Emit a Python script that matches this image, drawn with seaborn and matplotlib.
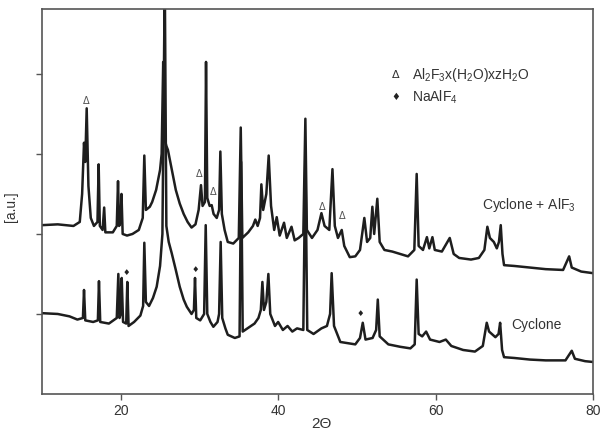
import numpy as np
import matplotlib
matplotlib.use("Agg")
import matplotlib.pyplot as plt
import seaborn as sns

# XRD patterns: (2theta, intensity in a.u.)
upper_2theta = [10, 12, 14, 14.8, 15.1, 15.34, 15.5, 15.68, 15.9, 16.2, 16.6, 17.05, 17.2, 17.35,
                17.7, 17.9, 18.05, 19.0, 19.5, 19.66, 19.8, 20.0, 20.1, 20.25, 20.8, 21.5, 22.3,
                22.8, 23.0, 23.2, 23.7, 24.0, 24.5, 25.0, 25.2, 25.4, 25.55, 25.8, 26.0, 26.3,
                26.6, 27.0, 27.5, 28.0, 28.5, 29.0, 29.5, 29.9, 30.2, 30.4, 30.7, 30.84, 31.0,
                31.3, 31.56, 31.8, 32.2, 32.5, 32.66, 32.85, 33.2, 33.6, 34.3, 35.0, 35.25, 35.45,
                36.2, 36.8, 37.1, 37.4, 37.7, 37.87, 38.1, 38.5, 38.8, 39.1, 39.5, 39.82, 40.2,
                40.75, 41.1, 41.7, 42.1, 42.6, 43.2, 43.46, 43.65, 44.3, 45.0, 45.5, 45.9, 46.5,
                46.9, 47.2, 47.6, 48.08, 48.4, 49.1, 49.8, 50.4, 50.95, 51.3, 51.7, 51.97, 52.2,
                52.6, 52.9, 53.5, 54.5, 55.5, 56.5, 57.3, 57.6, 57.85, 58.4, 58.9, 59.2, 59.6,
                59.9, 60.8, 61.8, 62.3, 63.0, 64.5, 65.5, 66.2, 66.58, 66.9, 67.4, 67.78, 68.05,
                68.28, 68.5, 68.7, 70, 72, 74, 76.2, 76.97, 77.3, 78.5, 80]
upper_int = [2.11, 2.12, 2.1, 2.15, 2.5, 3.14, 2.9, 3.57, 2.6, 2.2, 2.1, 2.15, 2.87, 2.1,
             2.05, 2.33, 2.02, 2.02, 2.1, 2.66, 2.1, 2.15, 2.5, 2.0, 1.98, 2.0, 2.05,
             2.2, 2.98, 2.3, 2.34, 2.4, 2.55, 2.8, 3.0, 4.15, 3.2, 3.1, 3.05, 2.9,
             2.75, 2.55, 2.38, 2.25, 2.15, 2.08, 2.12, 2.3, 2.61, 2.35, 2.4, 4.15, 2.45,
             2.35, 2.36, 2.25, 2.2, 2.3, 3.03, 2.25, 2.05, 1.9, 1.88, 1.95, 3.33, 1.95,
             2.02, 2.1, 2.18, 2.1, 2.2, 2.62, 2.3, 2.5, 2.98, 2.35, 2.05, 2.21, 1.98,
             2.14, 1.95, 2.09, 1.92, 1.95, 2.0, 3.44, 2.05, 1.95, 2.05, 2.26, 2.1, 2.05,
             2.81, 2.1, 1.95, 2.05, 1.85, 1.71, 1.72, 1.8, 2.2, 1.9, 1.95, 2.34, 2.0,
             2.44, 1.9, 1.8, 1.78, 1.75, 1.72, 1.8, 2.75, 1.85, 1.8, 1.96, 1.82, 1.96,
             1.8, 1.78, 1.95, 1.75, 1.7, 1.68, 1.7, 1.8, 2.09, 1.95, 1.9, 1.82, 1.9,
             2.11, 1.75, 1.61, 1.6, 1.58, 1.56, 1.55, 1.72, 1.58, 1.53, 1.51]

lower_2theta = [10, 12, 13.5, 14.5, 15.2, 15.34, 15.5, 16.5, 17.1, 17.24, 17.4, 18.5, 19.5,
                19.7, 19.85, 20.0, 20.13, 20.3, 20.7, 20.84, 21.0, 21.7, 22.5, 22.85, 23.0, 23.2,
                23.6, 24.1, 24.57, 25.0, 25.3, 25.6, 25.8, 26.1, 26.48, 27.0, 27.5, 28.0, 28.4,
                29.0, 29.3, 29.44, 29.6, 30.1, 30.6, 30.8, 31.0, 31.4, 31.77, 32.3, 32.5, 32.7,
                32.9, 33.3, 33.6, 34.5, 35.1, 35.3, 35.5, 36.4, 37.0, 37.5, 37.8, 38.0, 38.2,
                38.5, 38.76, 39.0, 39.6, 40.0, 40.6, 41.2, 41.8, 42.4, 43.2, 43.46, 43.7, 44.5,
                45.5, 46.2, 46.6, 46.8, 47.1, 47.9, 49.8, 50.4, 50.75, 51.1, 52.0, 52.45, 52.66,
                52.9, 54.0, 55.5, 56.8, 57.35, 57.6, 57.85, 58.3, 58.8, 59.3, 60.5, 61.3, 62.0,
                63.5, 65.0, 66.0, 66.5, 66.8, 67.6, 68.0, 68.2, 68.45, 68.7, 70, 72, 74, 76.5,
                77.3, 77.7, 79, 80]
lower_int = [1.01, 1.0, 0.97, 0.93, 0.95, 1.3, 0.92, 0.9, 0.92, 1.41, 0.9, 0.88, 0.95,
             1.5, 0.95, 1.0, 1.45, 0.9, 0.88, 1.4, 0.85, 0.9, 0.98, 1.1, 1.89, 1.15,
             1.1, 1.2, 1.34, 1.6, 2.0, 5.2, 2.1, 1.9, 1.76, 1.55, 1.34, 1.18, 1.09,
             1.0, 1.05, 1.45, 0.95, 0.92, 1.0, 2.11, 1.0, 0.9, 0.84, 0.9, 1.0, 1.9,
             0.95, 0.82, 0.74, 0.7, 0.72, 2.9, 0.78, 0.84, 0.88, 0.95, 1.05, 1.4, 1.05,
             1.15, 1.5, 1.0, 0.85, 0.9, 0.8, 0.85, 0.78, 0.82, 0.8, 3.0, 0.8, 0.75,
             0.82, 0.85, 1.0, 1.51, 0.85, 0.65, 0.62, 0.7, 0.89, 0.68, 0.7, 0.8, 1.18,
             0.72, 0.62, 0.59, 0.57, 0.62, 1.43, 0.75, 0.72, 0.78, 0.68, 0.65, 0.68, 0.6,
             0.55, 0.53, 0.6, 0.89, 0.78, 0.71, 0.75, 0.89, 0.55, 0.46, 0.45, 0.43, 0.42, 0.42,
             0.54, 0.44, 0.41, 0.4]

# phase markers (2theta, height where the symbol sits)
delta_pos = [15.6, 29.95, 31.73, 45.58, 48.1]
delta_y = [3.66, 2.75, 2.52, 2.34, 2.22]
diamond_pos = [20.67, 29.44, 50.4]
diamond_y = [1.52, 1.56, 1.0]

sns.set_style("ticks")
plt.rcParams['font.family'] = ['Liberation Sans', 'DejaVu Sans']
plt.rcParams['mathtext.fontset'] = 'custom'
plt.rcParams['mathtext.rm'] = 'Liberation Sans'
plt.rcParams['mathtext.it'] = 'Liberation Sans:italic'

TXT = '#333333'
LINE = '#1e1e1e'

fig = plt.figure(figsize=(6.04, 4.34), dpi=100)
ax = fig.add_axes([0.0695, 0.0922, 0.9123, 0.8868])

sns.lineplot(x=upper_2theta, y=upper_int, color=LINE, linewidth=1.8, estimator=None, ax=ax)
sns.lineplot(x=lower_2theta, y=lower_int, color=LINE, linewidth=1.8, estimator=None, ax=ax)

for x, y in zip(delta_pos, delta_y):
    ax.text(x, y, 'Δ', fontsize=7, color='#555555', ha='center', va='center',
            family=['DejaVu Sans'])
for x, y in zip(diamond_pos, diamond_y):
    ax.text(x, y, '♦', fontsize=6, color='#222222', ha='center', va='center',
            family=['DejaVu Sans'])

# legend-like annotation
ax.text(55.0, 3.99, 'Δ', fontsize=8, color=TXT, ha='center', va='center', family=['DejaVu Sans'])
ax.text(57.0, 3.99, r'Al$_2$F$_3$x(H$_2$O)xzH$_2$O', fontsize=10, color=TXT, va='center')
ax.text(55.0, 3.71, '♦', fontsize=7, color='#222222', ha='center', va='center', family=['DejaVu Sans'])
ax.text(57.0, 3.71, r'NaAlF$_4$', fontsize=10, color=TXT, va='center')

ax.text(65.9, 2.36, r'Cyclone + AlF$_3$', fontsize=10, color=TXT, va='center')
ax.text(69.6, 0.86, 'Cyclone', fontsize=10, color=TXT, va='center')

ax.set_xlim(10, 80)
ax.set_ylim(0, 4.81)
ax.set_xticks([20, 40, 60, 80])
ax.set_yticks([1, 2, 3, 4])
ax.set_yticklabels([])
ax.tick_params(axis='both', direction='out', length=4, width=1, colors='#555555',
               labelcolor=TXT, labelsize=10)
for s in ax.spines.values():
    s.set_color('#555555')
    s.set_linewidth(1.2)

ax.set_xlabel('2Θ', fontsize=11, color=TXT)
ax.xaxis.set_label_coords(0.508, -0.06)
ax.set_ylabel('[a.u.]', fontsize=10, color=TXT)
ax.yaxis.set_label_coords(-0.044, 0.486)

fig.savefig('out.png', dpi=100)
